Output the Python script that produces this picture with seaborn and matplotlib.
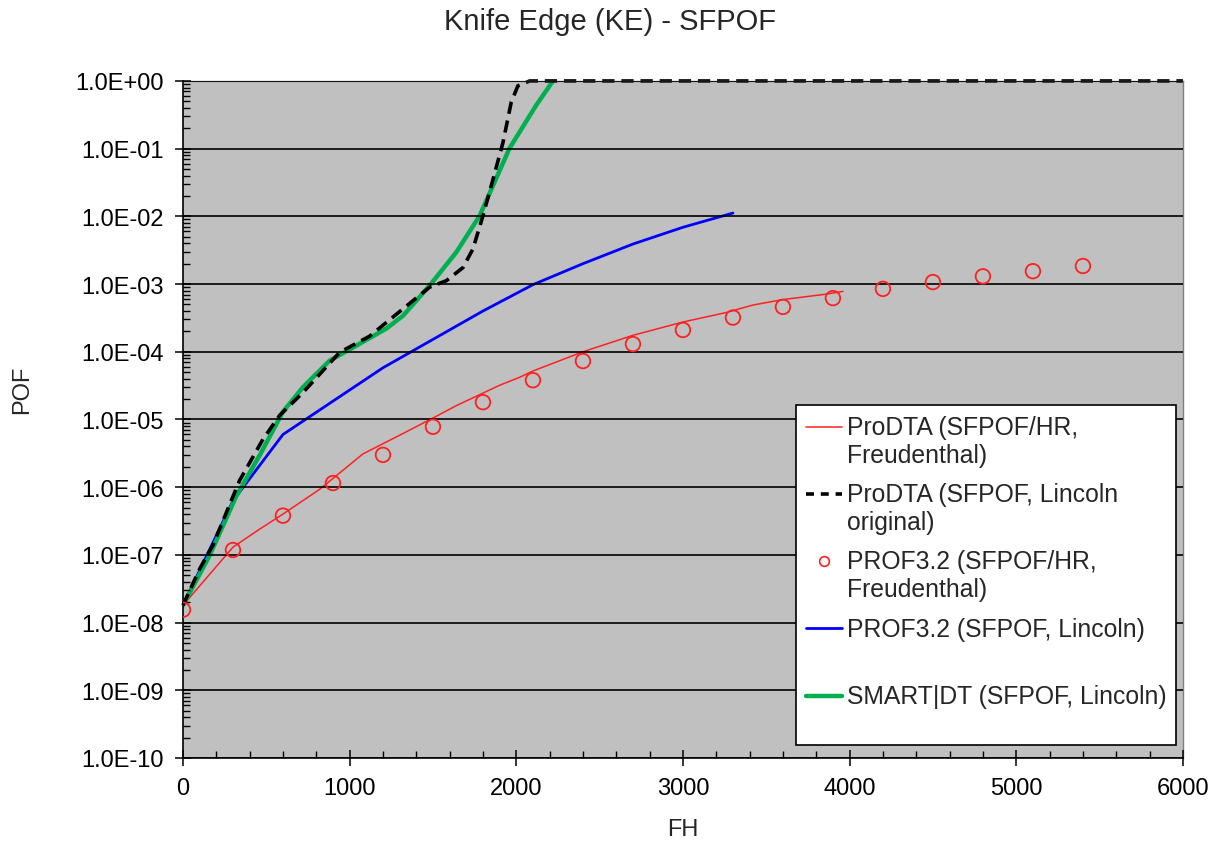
import matplotlib
matplotlib.use("Agg")
import matplotlib.pyplot as plt
import matplotlib.ticker as mticker
from matplotlib.lines import Line2D
from matplotlib.legend_handler import HandlerLine2D
import numpy as np
import pandas as pd
import seaborn as sns

# ---- data (FH vs POF) ----
prodta_fr_fh = [0, 300, 460, 600, 820, 1080, 1320, 1500, 1640, 1900, 2020, 2100,
                2400, 2700, 3000, 3260, 3420, 3600, 3860, 3960]
prodta_fr_pof = [1.8e-8, 1.3e-7, 2.4e-7, 4.0e-7, 9.3e-7, 3.1e-6, 6.2e-6, 1.05e-5, 1.6e-5,
                 3.2e-5, 4.2e-5, 5.2e-5, 1.0e-4, 1.75e-4, 2.75e-4, 3.8e-4, 4.9e-4,
                 5.9e-4, 7.1e-4, 7.8e-4]

prodta_li_fh = [0, 100, 180, 340, 480, 580, 720, 940, 1120, 1320, 1480, 1580, 1680,
                1740, 1800, 1860, 1920, 1970, 2010, 2080, 6000]
prodta_li_pof = [1.8e-8, 6.2e-8, 1.4e-7, 1.26e-6, 5.1e-6, 1.15e-5, 2.5e-5, 9.8e-5,
                 1.7e-4, 4.3e-4, 9.0e-4, 1.12e-3, 1.75e-3, 3.3e-3, 1.02e-2, 3.5e-2,
                 1.23e-1, 4.9e-1, 8.5e-1, 1.0, 1.0]

prof_fr_fh = [0, 300, 600, 900, 1200, 1500, 1800, 2100, 2400, 2700, 3000, 3300,
              3600, 3900, 4200, 4500, 4800, 5100, 5400]
prof_fr_pof = [1.55e-8, 1.18e-7, 3.8e-7, 1.15e-6, 3.0e-6, 7.8e-6, 1.8e-5, 3.8e-5,
               7.3e-5, 1.3e-4, 2.1e-4, 3.2e-4, 4.6e-4, 6.2e-4, 8.5e-4, 1.07e-3,
               1.3e-3, 1.55e-3, 1.85e-3]

prof_li_fh = [0, 300, 600, 1200, 1800, 2100, 2400, 2700, 3000, 3300]
prof_li_pof = [1.8e-8, 6.3e-7, 6.0e-6, 5.8e-5, 4.0e-4, 9.8e-4, 2.0e-3, 3.9e-3,
               6.9e-3, 1.12e-2]

smart_fh = [0, 160, 320, 460, 600, 720, 880, 1040, 1220, 1320, 1480, 1640, 1780,
            1960, 2120, 2220]
smart_pof = [1.8e-8, 9.8e-8, 7.4e-7, 2.95e-6, 1.3e-5, 3.0e-5, 7.4e-5, 1.23e-4,
             2.2e-4, 3.4e-4, 9.5e-4, 2.95e-3, 1.02e-2, 1.02e-1, 4.4e-1, 1.0]

labels = ["ProDTA (SFPOF/HR,\nFreudenthal)",
          "ProDTA (SFPOF, Lincoln\noriginal)",
          "PROF3.2 (SFPOF/HR,\nFreudenthal)",
          "PROF3.2 (SFPOF, Lincoln)\n ",
          "SMART|DT (SFPOF, Lincoln)\n "]

sns.set_style("ticks")
plt.rcParams['font.family'] = ['Liberation Sans', 'DejaVu Sans']

fig = plt.figure(figsize=(12.19, 8.45), dpi=100)
ax = fig.add_axes([0.1501, 0.1018, 0.8203, 0.8012])
ax.set_facecolor("#C0C0C0")

# lines
sns.lineplot(x=prodta_fr_fh, y=prodta_fr_pof, ax=ax, color="#FF2020", lw=1.1,
             sort=False, estimator=None)
sns.lineplot(x=prof_li_fh, y=prof_li_pof, ax=ax, color="#0000FF", lw=2.0,
             sort=False, estimator=None)
sns.lineplot(x=smart_fh, y=smart_pof, ax=ax, color="#00B050", lw=3.2,
             sort=False, estimator=None)
sns.lineplot(x=prodta_li_fh, y=prodta_li_pof, ax=ax, color="black", lw=2.6,
             sort=False, estimator=None)
ax.lines[-1].set_dashes((3.4, 1.9))
ax.lines[-1].set_clip_on(False)
sns.scatterplot(x=prof_fr_fh, y=prof_fr_pof, ax=ax, marker="o", s=110,
                facecolor="none", edgecolor="#FF2020", linewidth=1.3, zorder=5)

ax.set_yscale("log")
ax.set_xlim(0, 6000)
ax.set_ylim(1e-10, 1.0)

ax.xaxis.set_major_locator(mticker.MultipleLocator(1000))
ax.xaxis.set_minor_locator(mticker.MultipleLocator(200))
ax.yaxis.set_major_locator(mticker.LogLocator(base=10, numticks=20))
ax.yaxis.set_minor_locator(mticker.LogLocator(base=10, subs=np.arange(2, 10), numticks=100))
ax.yaxis.set_major_formatter(mticker.FuncFormatter(lambda v, p: f"{v:.1E}"))
ax.yaxis.set_minor_formatter(mticker.NullFormatter())

ax.tick_params(which="major", direction="inout", length=12, width=1.1,
               labelsize=17, pad=8, colors="black")
ax.tick_params(which="minor", direction="in", length=5, width=1.0, colors="black")
ax.tick_params(axis="y", which="both", right=False)
ax.tick_params(axis="x", which="both", top=False)

ax.yaxis.grid(True, which="major", color="black", lw=1.2)
ax.xaxis.grid(False)
ax.set_axisbelow(False)

for side in ["left", "bottom"]:
    ax.spines[side].set_color("black")
    ax.spines[side].set_linewidth(1.2)
for side in ["top", "right"]:
    ax.spines[side].set_color("#808080")
    ax.spines[side].set_linewidth(1.0)

ax.set_xlabel("FH", fontsize=17, va="center")
ax.set_ylabel("POF", fontsize=17, va="center")
ax.xaxis.set_label_coords(0.5, -0.105)
ax.yaxis.set_label_coords(-0.161, 0.545)
fig.suptitle("Knife Edge (KE) - SFPOF", fontsize=21, x=0.5, y=0.974, va="center")


class TopLine(HandlerLine2D):
    # put the handle next to the first line of a two-line label
    def create_artists(self, legend, orig_handle, xdescent, ydescent, width,
                       height, fontsize, trans):
        arts = super().create_artists(legend, orig_handle, xdescent, ydescent,
                                      width, height, fontsize, trans)
        for a in arts:
            a.set_ydata(np.asarray(a.get_ydata()) + 0.6 * fontsize)
        return arts


handles = [
    Line2D([], [], color="#FF2020", lw=1.1),
    Line2D([], [], color="black", lw=2.6, dashes=(2.2, 1.9)),
    Line2D([], [], ls="none", marker="o", ms=7, mfc="none", mec="#FF2020", mew=1.2),
    Line2D([], [], color="#0000FF", lw=2.0),
    Line2D([], [], color="#00B050", lw=3.2),
]
leg = ax.legend(handles, labels, loc="upper left", bbox_to_anchor=(0.613, 0.521),
                borderaxespad=0, fontsize=17.8, frameon=True, fancybox=False,
                framealpha=1, facecolor="white", edgecolor="black",
                handlelength=1.45, handletextpad=0.2, labelspacing=0.62,
                borderpad=0.4, handler_map={Line2D: TopLine()})
leg.get_frame().set_linewidth(1.2)

fig.savefig("out.png", dpi=100)
